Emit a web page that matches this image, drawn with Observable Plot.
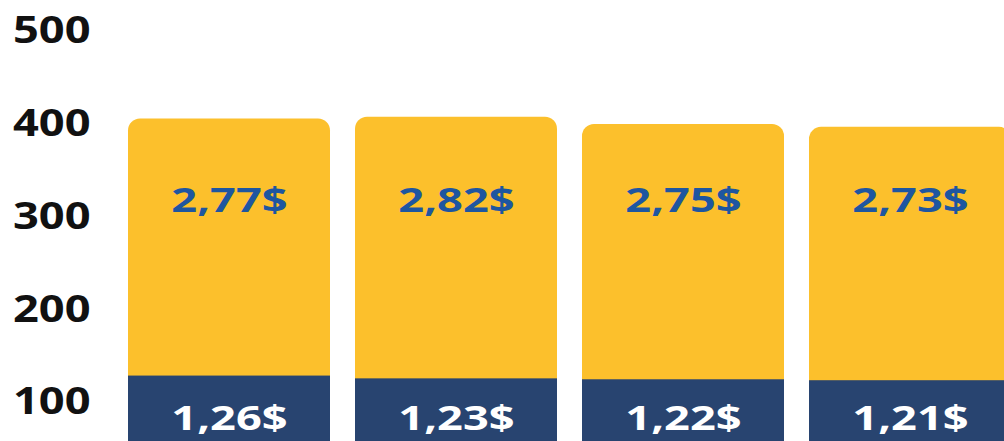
<!DOCTYPE html>
<html>
<head>
<meta charset="utf-8">
<script src="https://cdn.jsdelivr.net/npm/d3@7"></script>
<script src="https://cdn.jsdelivr.net/npm/@observablehq/plot@0.6"></script>
<style>
  html, body { margin: 0; padding: 0; background: #fff; overflow: hidden; }
  #chart svg { overflow: hidden; }
</style>
</head>
<body>
<div id="chart"></div>
<script>
// Data (values in cents; bottom = navy segment, top = yellow segment)
const categories = ["P1", "P2", "P3", "P4"];
const navyValues = [126, 123, 122, 121];
const yellowValues = [277, 282, 275, 273];
const yTicks = [100, 200, 300, 400, 500];

const fmt = v => (v / 100).toFixed(2).replace(".", ",") + "$";

const rows = categories.map((c, i) => ({
  cat: c,
  navy: navyValues[i],
  yellow: yellowValues[i],
  total: navyValues[i] + yellowValues[i]
}));

const YELLOW = "#FCC02C";
const NAVY = "#284470";
const BLUE = "#1E56A0";

const chart = Plot.plot({
  width: 1004,
  height: 441,
  marginLeft: 100,
  marginTop: 0,
  marginBottom: 0,
  marginRight: 0,
  style: { fontFamily: "'Open Sans', sans-serif", background: "#fff" },
  x: { domain: categories, range: [126, 1012.9], paddingInner: 0.11, paddingOuter: 0, axis: null },
  y: { domain: [0, 500], range: [492.5, 28.5], label: null, axis: null },
  marks: [
    Plot.barY(rows, { x: "cat", y1: 0, y2: "total", fill: YELLOW, rx: 12 }),
    Plot.barY(rows, { x: "cat", y1: 0, y2: "navy", fill: NAVY }),
    Plot.text(rows, { x: "cat", y: () => 315, text: d => fmt(d.yellow), fill: BLUE,
      fontSize: 34, fontWeight: 700, ariaLabel: "yellow-label" }),
    Plot.text(rows, { x: "cat", y: () => 80, text: d => fmt(d.navy), fill: "#fff",
      fontSize: 34, fontWeight: 700, ariaLabel: "navy-label" }),
    Plot.axisY({ ticks: yTicks, tickSize: 0, tickPadding: 10, fontSize: 38, fontWeight: 700,
      color: "#111", dy: 2, label: null, tickFormat: d => String(d) })
  ]
});

document.getElementById("chart").appendChild(chart);

// Widen the glyphs horizontally to match the reference's wide lettering
chart.querySelectorAll("text").forEach(t => {
  const g = t.closest("g[aria-label]");
  const lab = g ? g.getAttribute("aria-label") : "";
  const sx = lab && lab.indexOf("y-axis") >= 0 ? 1.19 : 1.33;
  const tr = t.getAttribute("transform");
  if (tr) {
    t.setAttribute("transform", tr + ` scale(${sx},1)`);
  } else {
    const x = +t.getAttribute("x") || 0, y = +t.getAttribute("y") || 0;
    t.setAttribute("transform", `translate(${x},${y}) scale(${sx},1) translate(${-x},${-y})`);
  }
});
</script>
</body>
</html>
